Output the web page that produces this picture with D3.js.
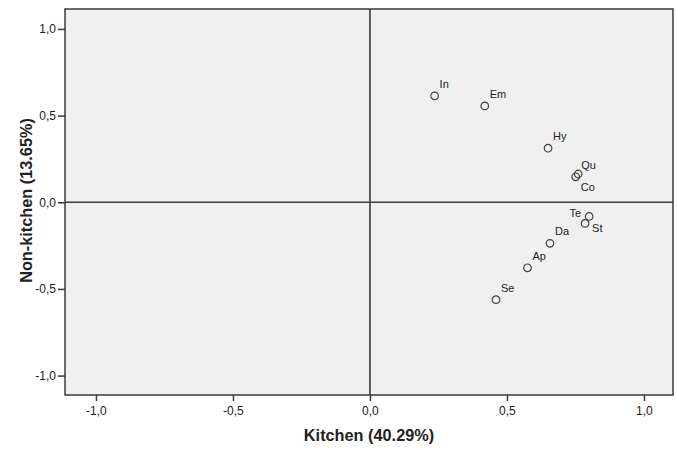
<!DOCTYPE html>
<html>
<head>
<meta charset="utf-8">
<script src="https://cdn.jsdelivr.net/npm/d3@7"></script>
<style>
  body { margin: 0; background: #fff; }
  text { font-family: Arial, "Liberation Sans", sans-serif; fill: #222; }
</style>
</head>
<body>
<svg id="chart" width="677" height="449"></svg>
<script>
// item codes and their coordinates on the two dimensions
var labels = ["In", "Em", "Hy", "Qu", "Co", "Te", "St", "Da", "Ap", "Se"];
var kitchen = [0.236, 0.419, 0.650, 0.760, 0.751, 0.800, 0.785, 0.657, 0.575, 0.460];
var nonKitchen = [0.614, 0.556, 0.312, 0.163, 0.147, -0.082, -0.122, -0.237, -0.378, -0.562];
var ticks = [-1.0, -0.5, 0.0, 0.5, 1.0];

// where each label sits around its point (crowded ones get moved)
var labelPlace = {
    Co: {dx: 5, dy: 14, anchor: "start"},
    Qu: {dx: 3, dy: -5, anchor: "start"},
    Te: {dx: -8, dy: 1, anchor: "end"},
    St: {dx: 7, dy: 9, anchor: "start"}
};

var svg = d3.select("#chart");
var pLeft = 65, pRight = 673, pTop = 9, pBottom = 395;

var x = d3.scaleLinear().domain([-1.113, 1.106]).range([pLeft, pRight]);
var y = d3.scaleLinear().domain([-1.112, 1.115]).range([pBottom, pTop]);
var fmt = function (d) { return d.toFixed(1).replace(".", ","); };

// plot background
svg.append("rect")
    .attr("x", pLeft).attr("y", pTop)
    .attr("width", pRight - pLeft).attr("height", pBottom - pTop)
    .attr("fill", "#f0f0f0")
    .attr("stroke", "#3a3a3a")
    .attr("stroke-width", 1.5);

// axes
var xAxis = svg.append("g")
    .attr("transform", "translate(0," + pBottom + ")")
    .call(d3.axisBottom(x).tickValues(ticks).tickFormat(fmt).tickSize(6).tickPadding(5));
var yAxis = svg.append("g")
    .attr("transform", "translate(" + pLeft + ",0)")
    .call(d3.axisLeft(y).tickValues(ticks).tickFormat(fmt).tickSize(7).tickPadding(2));

[xAxis, yAxis].forEach(function (a) {
    a.select(".domain").remove();
    a.selectAll(".tick line").attr("stroke", "#3a3a3a").attr("stroke-width", 1.5);
    a.selectAll(".tick text")
        .style("font-family", "Arial, 'Liberation Sans', sans-serif")
        .style("font-size", "12px")
        .attr("fill", "#222");
});

// zero reference lines
svg.append("line")
    .attr("x1", x(0)).attr("x2", x(0))
    .attr("y1", pTop).attr("y2", pBottom)
    .attr("stroke", "#3a3a3a").attr("stroke-width", 1.6);
svg.append("line")
    .attr("x1", pLeft).attr("x2", pRight)
    .attr("y1", y(0)).attr("y2", y(0))
    .attr("stroke", "#3a3a3a").attr("stroke-width", 1.6);

// points
var data = labels.map(function (l, i) {
    return {label: l, x: kitchen[i], y: nonKitchen[i]};
});

var pt = svg.selectAll(".pt")
    .data(data)
    .enter().append("g")
    .attr("class", "pt")
    .attr("transform", function (d) { return "translate(" + x(d.x) + "," + y(d.y) + ")"; });

pt.append("circle")
    .attr("r", 3.8)
    .attr("fill", "none")
    .attr("stroke", "#444")
    .attr("stroke-width", 1.2);

pt.append("text")
    .attr("x", function (d) { return labelPlace[d.label] ? labelPlace[d.label].dx : 5; })
    .attr("y", function (d) { return labelPlace[d.label] ? labelPlace[d.label].dy : -8; })
    .attr("text-anchor", function (d) { return labelPlace[d.label] ? labelPlace[d.label].anchor : "start"; })
    .style("font-size", "11px")
    .text(function (d) { return d.label; });

// axis titles
svg.append("text")
    .attr("x", 369)
    .attr("y", 441)
    .attr("text-anchor", "middle")
    .style("font-size", "16.3px")
    .style("font-weight", "bold")
    .text("Kitchen (40.29%)");

svg.append("text")
    .attr("transform", "translate(32,200.5) rotate(-90)")
    .attr("text-anchor", "middle")
    .style("font-size", "16.3px")
    .style("font-weight", "bold")
    .text("Non-kitchen (13.65%)");
</script>
</body>
</html>
